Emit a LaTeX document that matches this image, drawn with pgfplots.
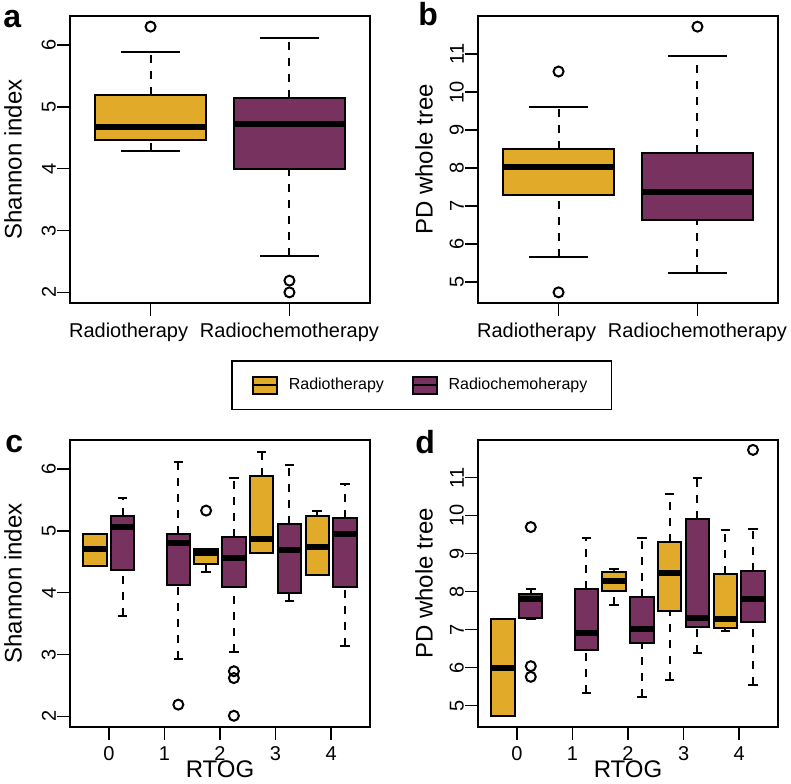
\documentclass[border=0pt]{standalone}
\usepackage{pgfplots}
\pgfplotsset{compat=1.18}
\usepgfplotslibrary{statistics}
\usepackage{fontspec}
\setmainfont{Liberation Sans}
\definecolor{cyel}{HTML}{E1AA28}
\definecolor{cpur}{HTML}{77325F}
\pgfplotsset{
  rpanel/.style={
    scale only axis, width=150pt, height=143.5pt,
    axis line style={line width=0.7pt},
    tick align=outside, tick pos=left,
    major tick length=6.5pt,
    every tick/.style={black, line width=0.7pt},
    tick label style={font=\fontsize{10}{12}\selectfont},
    /pgf/number format/assume math mode=true,
    yticklabel style={xshift=3pt, rotate=90, anchor=south},
    xticklabel style={inner ysep=1pt, yshift=-2.3pt},
    label style={font=\fontsize{12}{14}\selectfont},
    ylabel style={at={(axis description cs:-0.19,0.5)}, anchor=center},
    clip=false,
    boxplot/draw direction=y,
  },
  rbox/.style={
    forget plot,
    boxplot prepared, draw=black, line width=1pt, solid,
    boxplot/draw direction=y,
    boxplot/every box/.style={fill=#1, draw=black, line width=1pt},
    boxplot/every median/.style={line width=3pt, black},
    boxplot/draw/lower whisker/.code={
      \draw[black, line width=1pt, dash pattern=on 4pt off 4pt] (boxplot box cs:\pgfplotsboxplotvalue{lower whisker},0.5) -- (boxplot box cs:\pgfplotsboxplotvalue{lower quartile},0.5);
      \draw[black, line width=1pt] (boxplot whisker cs:\pgfplotsboxplotvalue{lower whisker},0) -- (boxplot whisker cs:\pgfplotsboxplotvalue{lower whisker},1);
    },
    boxplot/draw/upper whisker/.code={
      \draw[black, line width=1pt, dash pattern=on 4pt off 4pt] (boxplot box cs:\pgfplotsboxplotvalue{upper quartile},0.5) -- (boxplot box cs:\pgfplotsboxplotvalue{upper whisker},0.5);
      \draw[black, line width=1pt] (boxplot whisker cs:\pgfplotsboxplotvalue{upper whisker},0) -- (boxplot whisker cs:\pgfplotsboxplotvalue{upper whisker},1);
    },
  },
  outl/.style={forget plot, only marks, mark=o, mark size=2.5pt, line width=1pt, black},
}
\begin{document}
\begin{tikzpicture}
\path[use as bounding box] (0,0) rectangle (395.5pt,391.5pt);

% ---------- a ----------
\begin{axis}[rpanel, at={(35pt,240pt)}, anchor=south west,
  xmin=0.42, xmax=2.58, ymin=1.828, ymax=6.472,
  xtick={1,2}, xticklabels={\hspace*{-22pt}Radiotherapy,Radiochemotherapy},
  ytick={2,3,4,5,6}, ylabel={Shannon index},
  boxplot/box extend=0.8, boxplot/whisker extend=0.42,
  legend style={at={(axis description cs:0.538,-0.199)}, anchor=north west,
    legend columns=2, draw=black, line width=0.8pt,
    font=\fontsize{8}{10}\selectfont, inner xsep=10pt, inner ysep=6.5pt,
    /tikz/every odd column/.append style={column sep=3.5pt},
    /tikz/every even column/.append style={column sep=12pt}},
  legend cell align=left]
\addlegendimage{legend image code/.code={\draw[fill=cyel,line width=0.8pt] (0pt,-4.25pt) rectangle (12pt,4.25pt); \draw[line width=0.8pt] (0pt,0pt)--(12pt,0pt);}}
\addlegendentry{Radiotherapy}
\addlegendimage{legend image code/.code={\draw[fill=cpur,line width=0.8pt] (0pt,-4.25pt) rectangle (12pt,4.25pt); \draw[line width=0.8pt] (0pt,0pt)--(12pt,0pt);}}
\addlegendentry{Radiochemoherapy}
\addplot[rbox=cyel, boxplot prepared={draw position=1, lower whisker=4.28, lower quartile=4.46, median=4.68, upper quartile=5.19, upper whisker=5.89}] coordinates {};
\addplot[rbox=cpur, boxplot prepared={draw position=2, lower whisker=2.59, lower quartile=4.00, median=4.72, upper quartile=5.15, upper whisker=6.11}] coordinates {};
\addplot[outl] coordinates {(1,6.30) (2,2.19) (2,2.00)};
\end{axis}

% ---------- b ----------
\begin{axis}[rpanel, at={(239pt,240pt)}, anchor=south west,
  xmin=0.42, xmax=2.58, ymin=4.45, ymax=12.0,
  xtick={1,2}, xticklabels={\hspace*{-22pt}Radiotherapy,Radiochemotherapy},
  ytick={5,6,7,8,9,10,11}, ylabel={PD whole tree},
  ylabel style={at={(axis description cs:-0.18,0.5)}},
  boxplot/box extend=0.8, boxplot/whisker extend=0.42]
\addplot[rbox=cyel, boxplot prepared={draw position=1, lower whisker=5.67, lower quartile=7.30, median=8.03, upper quartile=8.50, upper whisker=9.60}] coordinates {};
\addplot[rbox=cpur, boxplot prepared={draw position=2, lower whisker=5.23, lower quartile=6.64, median=7.38, upper quartile=8.40, upper whisker=10.96}] coordinates {};
\addplot[outl] coordinates {(1,10.54) (1,4.73) (2,11.72)};
\end{axis}

% ---------- c ----------
\begin{axis}[rpanel, at={(35pt,28pt)}, anchor=south west,
  xmin=-0.7, xmax=4.7, ymin=1.828, ymax=6.472,
  xtick={0,1,2,3,4}, ytick={2,3,4,5,6},
  ylabel={Shannon index}, xlabel={RTOG},
  xlabel style={at={(axis description cs:0.5,-0.147)}, anchor=center, inner sep=0pt},
  boxplot/box extend=0.42, boxplot/whisker extend=0.17]
\addplot[rbox=cyel, boxplot prepared={draw position=-0.25, lower whisker=4.44, lower quartile=4.44, median=4.71, upper quartile=4.95, upper whisker=4.95}] coordinates {};
\addplot[rbox=cpur, boxplot prepared={draw position=0.25, lower whisker=3.63, lower quartile=4.37, median=5.06, upper quartile=5.25, upper whisker=5.53}] coordinates {};
\addplot[rbox=cpur, boxplot prepared={draw position=1.25, lower whisker=2.93, lower quartile=4.12, median=4.80, upper quartile=4.95, upper whisker=6.11}] coordinates {};
\addplot[rbox=cyel, boxplot prepared={draw position=1.75, lower whisker=4.33, lower quartile=4.47, median=4.64, upper quartile=4.71, upper whisker=4.71}] coordinates {};
\addplot[rbox=cpur, boxplot prepared={draw position=2.25, lower whisker=3.04, lower quartile=4.09, median=4.56, upper quartile=4.91, upper whisker=5.85}] coordinates {};
\addplot[rbox=cyel, boxplot prepared={draw position=2.75, lower whisker=4.65, lower quartile=4.65, median=4.87, upper quartile=5.89, upper whisker=6.28}] coordinates {};
\addplot[rbox=cpur, boxplot prepared={draw position=3.25, lower whisker=3.86, lower quartile=4.00, median=4.70, upper quartile=5.12, upper whisker=6.06}] coordinates {};
\addplot[rbox=cyel, boxplot prepared={draw position=3.75, lower whisker=4.28, lower quartile=4.28, median=4.74, upper quartile=5.25, upper whisker=5.32}] coordinates {};
\addplot[rbox=cpur, boxplot prepared={draw position=4.25, lower whisker=3.14, lower quartile=4.10, median=4.95, upper quartile=5.21, upper whisker=5.76}] coordinates {};
\addplot[outl] coordinates {(1.25,2.19) (1.75,5.33) (2.25,2.73) (2.25,2.62) (2.25,2.01)};
\end{axis}

% ---------- d ----------
\begin{axis}[rpanel, at={(239pt,28pt)}, anchor=south west,
  xmin=-0.7, xmax=4.7, ymin=4.44, ymax=11.99,
  xtick={0,1,2,3,4}, ytick={5,6,7,8,9,10,11},
  ylabel={PD whole tree}, xlabel={RTOG},
  ylabel style={at={(axis description cs:-0.18,0.5)}},
  xlabel style={at={(axis description cs:0.5,-0.147)}, anchor=center, inner sep=0pt},
  boxplot/box extend=0.42, boxplot/whisker extend=0.17]
\addplot[rbox=cyel, boxplot prepared={draw position=-0.25, lower whisker=4.72, lower quartile=4.72, median=6.00, upper quartile=7.28, upper whisker=7.28}] coordinates {};
\addplot[rbox=cpur, boxplot prepared={draw position=0.25, lower whisker=7.28, lower quartile=7.32, median=7.80, upper quartile=7.94, upper whisker=8.07}] coordinates {};
\addplot[rbox=cpur, boxplot prepared={draw position=1.25, lower whisker=5.33, lower quartile=6.46, median=6.92, upper quartile=8.07, upper whisker=9.42}] coordinates {};
\addplot[rbox=cyel, boxplot prepared={draw position=1.75, lower whisker=7.65, lower quartile=8.01, median=8.29, upper quartile=8.51, upper whisker=8.60}] coordinates {};
\addplot[rbox=cpur, boxplot prepared={draw position=2.25, lower whisker=5.22, lower quartile=6.64, median=7.03, upper quartile=7.86, upper whisker=9.42}] coordinates {};
\addplot[rbox=cyel, boxplot prepared={draw position=2.75, lower whisker=5.67, lower quartile=7.50, median=8.49, upper quartile=9.31, upper whisker=10.56}] coordinates {};
\addplot[rbox=cpur, boxplot prepared={draw position=3.25, lower whisker=6.39, lower quartile=7.08, median=7.30, upper quartile=9.90, upper whisker=10.98}] coordinates {};
\addplot[rbox=cyel, boxplot prepared={draw position=3.75, lower whisker=6.97, lower quartile=7.05, median=7.28, upper quartile=8.47, upper whisker=9.61}] coordinates {};
\addplot[rbox=cpur, boxplot prepared={draw position=4.25, lower whisker=5.54, lower quartile=7.20, median=7.82, upper quartile=8.54, upper whisker=9.66}] coordinates {};
\addplot[outl] coordinates {(0.25,9.70) (0.25,6.04) (0.25,5.76) (4.25,11.73)};
\end{axis}

\node[anchor=base west, font=\bfseries\fontsize{16}{18}\selectfont, inner sep=0pt] at (1.5pt,377.5pt) {a};
\node[anchor=base west, font=\bfseries\fontsize{16}{18}\selectfont, inner sep=0pt] at (209pt,378.5pt) {b};
\node[anchor=base west, font=\bfseries\fontsize{16}{18}\selectfont, inner sep=0pt] at (2.5pt,165.5pt) {c};
\node[anchor=base west, font=\bfseries\fontsize{16}{18}\selectfont, inner sep=0pt] at (207.5pt,165pt) {d};
\end{tikzpicture}
\end{document}
